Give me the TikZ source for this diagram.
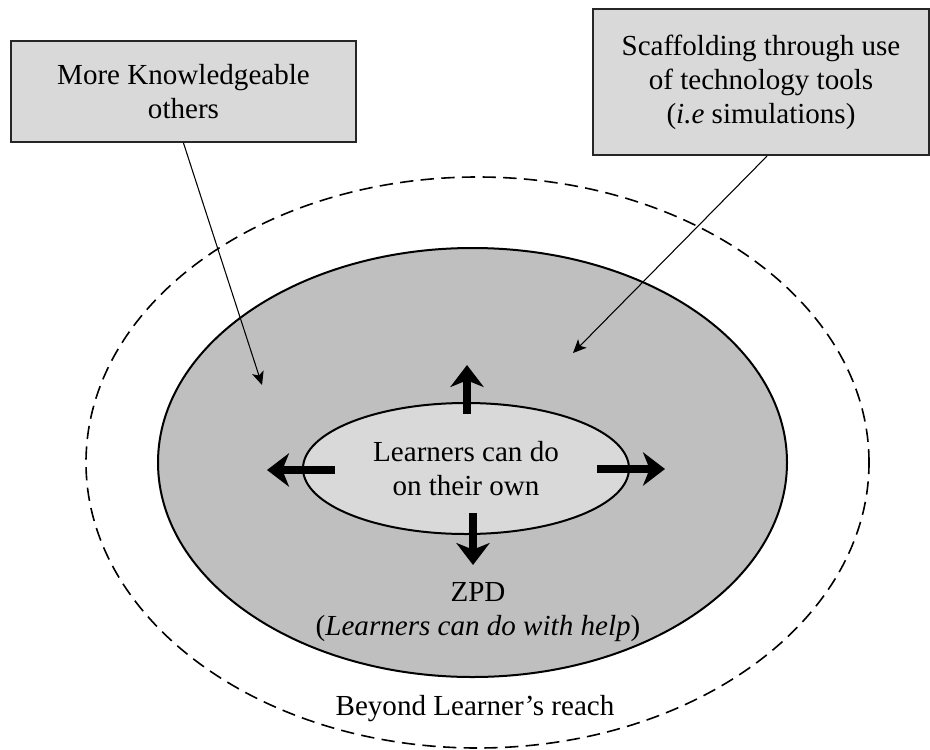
\documentclass[tikz,border=0pt]{standalone}
\usepackage{fontspec}
\setmainfont{Liberation Serif}
\usetikzlibrary{shapes.geometric,arrows.meta}
\definecolor{boxgray}{HTML}{D9D9D9}
\definecolor{zpdgray}{HTML}{BFBFBF}
\tikzset{
  labelbox/.style={draw=black!85, line width=1.6pt, fill=boxgray, align=center, inner sep=0pt,
    font=\fontsize{21.8pt}{25.5pt}\selectfont},
  zone/.style={ellipse, inner sep=0pt, line width=1.5pt, draw=black},
  plaintext/.style={align=center, inner sep=0pt, font=\fontsize{21.8pt}{25pt}\selectfont},
  pointer/.style={line width=0.8pt, -{Stealth[length=10pt, width=9pt, inset=2.5pt]}},
  growarrow/.style={line width=6pt, -{Stealth[length=16.5pt, width=25pt, inset=5pt]}}
}
\begin{document}
\begin{tikzpicture}[x=0.75pt,y=-0.75pt]
\useasboundingbox (0,0) rectangle (930,749);
% outer dashed region
\node[zone, dashed, dash pattern=on 10pt off 5.5pt, line width=1.2pt, minimum width=587.25pt, minimum height=428.25pt] (outer) at (477.5,462.5) {};
% ZPD region
\node[zone, fill=zpdgray, minimum width=471.75pt, minimum height=321.75pt] (zpd) at (472.5,462.5) {};
% inner region
\node[zone, fill=boxgray, minimum width=244.5pt, minimum height=98.25pt, align=center,
  font=\fontsize{21.8pt}{25pt}\selectfont] (own) at (466,468.5) {Learners can do\\on their own};
% thick growth arrows
\coordinate (us) at (467,414); \coordinate (ue) at (467,365);
\coordinate (ls) at (335,470); \coordinate (le) at (267,470);
\coordinate (rs) at (597,469); \coordinate (re) at (665,469);
\coordinate (ds) at (473,513); \coordinate (de) at (473,565);
\draw[growarrow] (us) -- (ue);
\draw[growarrow] (ls) -- (le);
\draw[growarrow] (rs) -- (re);
\draw[growarrow] (ds) -- (de);
% labels
\node[plaintext] (zpdlabel) at (478,612) {ZPD\\(\textit{Learners can do with help})};
\node[plaintext, anchor=base] (beyond) at (475,715) {Beyond Learner’s reach};
% boxes
\node[labelbox, minimum width=258.75pt, minimum height=75.75pt] (mko) at (183.5,91.5) {More Knowledgeable\\others};
\node[labelbox, minimum width=252pt, minimum height=109.5pt] (scaf) at (761,82) {Scaffolding through use\\of technology tools\\(\textit{i.e} simulations)};
% pointers
\coordinate (mkotip) at (262,385);
\coordinate (scaftip) at (573,353);
\draw[pointer] (mko.south) -- (mkotip);
\draw[pointer] ([xshift=4.5pt]scaf.south) -- (scaftip);
\end{tikzpicture}
\end{document}
